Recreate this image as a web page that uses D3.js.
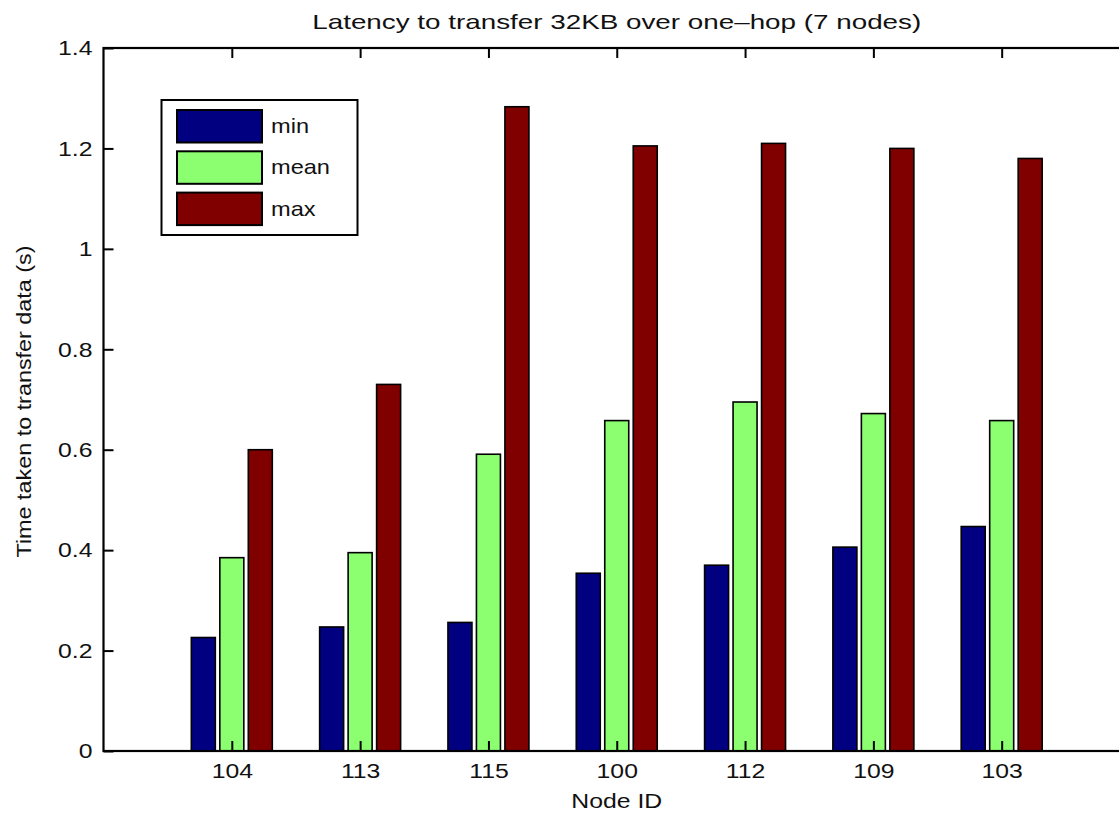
<!DOCTYPE html>
<html>
<head>
<meta charset="utf-8">
<script src="https://cdn.jsdelivr.net/npm/d3@7/dist/d3.min.js"></script>
<style>
  html, body { margin: 0; padding: 0; background: #fff; overflow: hidden; }
  text { font-family: "Liberation Sans", Arial, Helvetica, sans-serif; fill: #111; }
  /* labels are drawn slightly wide */
  .wide { transform-box: fill-box; transform: scaleX(1.18); }
  .wide-c { transform-origin: center; }
  .wide-r { transform-origin: right center; }
  .wide-l { transform-origin: left center; }
</style>
</head>
<body>
<svg id="chart" width="1119" height="816"></svg>
<script>
// Node IDs along the x axis
const nodes = ["104", "113", "115", "100", "112", "109", "103"];
// Transfer latency per node (seconds)
const minValues  = [0.226, 0.247, 0.256, 0.354, 0.370, 0.406, 0.447];
const meanValues = [0.385, 0.395, 0.591, 0.658, 0.695, 0.672, 0.658];
const maxValues  = [0.600, 0.730, 1.283, 1.205, 1.210, 1.200, 1.180];
const seriesNames = ["min", "mean", "max"];
const seriesColors = ["#000080", "#8cff70", "#800000"];
const yTicks = [0, 0.2, 0.4, 0.6, 0.8, 1, 1.2, 1.4];

const series = [minValues, meanValues, maxValues];

const svg = d3.select("#chart");
const plotLeft = 103.5, plotRight = 1130, plotTop = 48, plotBottom = 751;

// Categories sit at 1..7 on a continuous axis spanning 0..8
const x = d3.scaleLinear().domain([0, 8]).range([plotLeft, plotRight]);
const y = d3.scaleLinear().domain([0, 1.4]).range([plotBottom, plotTop]);

const barOffset = 0.222, barWidth = 0.187;
const fmt = d => d3.format("~g")(d);

// Bars
series.forEach((vals, s) => {
  svg.append("g").selectAll("rect")
    .data(vals)
    .join("rect")
    .attr("x", (d, i) => x(i + 1 + (s - 1) * barOffset - barWidth / 2))
    .attr("width", x(barWidth) - x(0))
    .attr("y", d => y(d))
    .attr("height", d => y(0) - y(d))
    .attr("fill", seriesColors[s])
    .attr("stroke", "#000")
    .attr("stroke-width", 1.6);
});

// Axes (ticks pointing inward, box around the plot)
const catTicks = nodes.map((n, i) => i + 1);

svg.append("g")
  .attr("transform", `translate(0,${plotBottom})`)
  .call(d3.axisTop(x).tickValues(catTicks).tickFormat("").tickSize(10).tickSizeOuter(0))
  .call(g => g.select(".domain").remove());

svg.append("g")
  .attr("transform", `translate(0,${plotBottom})`)
  .call(d3.axisBottom(x).tickValues(catTicks).tickFormat((d, i) => nodes[i]).tickSize(0).tickPadding(12).tickSizeOuter(0))
  .call(g => g.select(".domain").remove())
  .call(g => g.selectAll("text").attr("font-size", 21).attr("class", "wide wide-c").style("fill", "#111"));

svg.append("g")
  .attr("transform", `translate(0,${plotTop})`)
  .call(d3.axisBottom(x).tickValues(catTicks).tickFormat("").tickSize(10).tickSizeOuter(0))
  .call(g => g.select(".domain").remove());

svg.append("g")
  .attr("transform", `translate(${plotLeft},0)`)
  .call(d3.axisRight(y).tickValues(yTicks).tickFormat("").tickSize(10).tickSizeOuter(0))
  .call(g => g.select(".domain").remove());

svg.append("g")
  .attr("transform", `translate(${plotLeft},0)`)
  .call(d3.axisLeft(y).tickValues(yTicks).tickFormat(fmt).tickSize(0).tickPadding(11).tickSizeOuter(0))
  .call(g => g.select(".domain").remove())
  .call(g => g.selectAll("text").attr("font-size", 21).attr("class", "wide wide-r").style("fill", "#111"));

svg.append("g")
  .attr("transform", `translate(${plotRight},0)`)
  .call(d3.axisLeft(y).tickValues(yTicks).tickFormat("").tickSize(10).tickSizeOuter(0))
  .call(g => g.select(".domain").remove());

svg.selectAll(".tick line").attr("stroke", "#000").attr("stroke-width", 2);

svg.append("rect")
  .attr("x", plotLeft).attr("y", plotTop)
  .attr("width", plotRight - plotLeft).attr("height", plotBottom - plotTop)
  .attr("fill", "none").attr("stroke", "#000").attr("stroke-width", 2.2);

// Title and axis labels
svg.append("text")
  .attr("x", (plotLeft + plotRight) / 2).attr("y", 29)
  .attr("text-anchor", "middle").attr("font-size", 21)
  .attr("textLength", 609).attr("lengthAdjust", "spacingAndGlyphs")
  .text("Latency to transfer 32KB over one\u2013hop (7 nodes)");

svg.append("text")
  .attr("x", (plotLeft + plotRight) / 2).attr("y", 808)
  .attr("text-anchor", "middle").attr("font-size", 21)
  .attr("class", "wide wide-c")
  .text("Node ID");

svg.append("text")
  .attr("transform", `translate(31,${(plotTop + plotBottom) / 2 + 2}) rotate(-90)`)
  .attr("text-anchor", "middle").attr("font-size", 20)
  .attr("textLength", 312).attr("lengthAdjust", "spacingAndGlyphs")
  .text("Time taken to transfer data (s)");

// Legend
const lg = svg.append("g");
lg.append("rect")
  .attr("x", 161.5).attr("y", 100).attr("width", 196).attr("height", 135)
  .attr("fill", "#fff").attr("stroke", "#000").attr("stroke-width", 2);
seriesNames.forEach((name, i) => {
  const ry = 110 + i * 41.3;
  lg.append("rect")
    .attr("x", 177).attr("y", ry).attr("width", 85).attr("height", 32.5)
    .attr("fill", seriesColors[i]).attr("stroke", "#000").attr("stroke-width", 2);
  lg.append("text")
    .attr("x", 271).attr("y", ry + 16).attr("dy", "0.35em")
    .attr("font-size", 20)
    .attr("class", "wide wide-l")
    .text(name);
});
</script>
</body>
</html>
